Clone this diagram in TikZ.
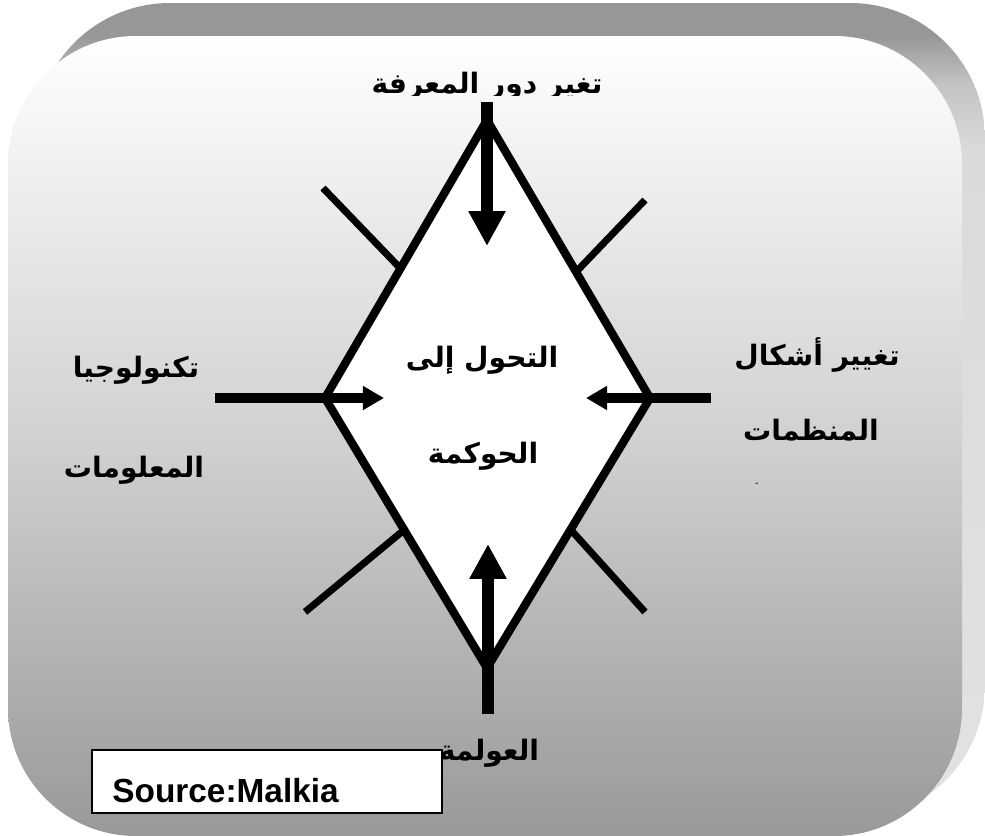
\documentclass[tikz,border=0pt]{standalone}
\usepackage{fontspec}
\setmainfont{Liberation Sans}
\newfontfamily\arabicfont[Script=Arabic]{DejaVu Sans}
\TeXXeTstate=1
\usetikzlibrary{arrows.meta}
\newcommand{\artext}[1]{{\arabicfont\bfseries\beginR #1\endR}}
\definecolor{backtop}{HTML}{979797}
\definecolor{backmid}{HTML}{C4C4C4}
\definecolor{backlow}{HTML}{DADADA}
\definecolor{backend}{HTML}{E2E2E2}
\pgfdeclareverticalshading{backshade}{100bp}{color(0bp)=(backend); color(25bp)=(backend);
  color(66bp)=(backlow); color(70bp)=(backmid); color(73bp)=(backtop); color(100bp)=(backtop)}

\begin{document}
\begin{tikzpicture}[x=0.02cm, y=-0.02cm,
    lbl/.style={font=\fontsize{16}{19}\selectfont, inner sep=0pt, anchor=base},
    spoke/.style={line width=4pt},
    bigarrow/.style={line width=7.2pt, -{Triangle[length=19.8pt,width=19.8pt]}},
    sidearrow/.style={line width=5.4pt, -{Triangle[length=12pt,width=13pt]}}]
  \useasboundingbox (0,0) rectangle (985,836);
  % back and front panels
  \shade[shading=backshade, rounded corners=2.7cm] (35,3) rectangle (985,820);
  \shade[top color=white, bottom color=black!40, middle color=black!18, rounded corners=2.56cm] (8,36) rectangle (962,836);
  % diamond
  \coordinate (tv) at (487,120);
  \coordinate (rv) at (650,398);
  \coordinate (bv) at (487,668);
  \coordinate (lv) at (325,398);
  \draw[line width=4.7pt, fill=white] (tv) -- (rv) -- (bv) -- (lv) -- cycle;
  % spokes
  \coordinate (ulo) at (323,188);
  \coordinate (uli) at (400,268);
  \coordinate (uro) at (645,200);
  \coordinate (uri) at (576,272);
  \coordinate (llo) at (305,612);
  \coordinate (lli) at (404,530);
  \coordinate (lro) at (645,612);
  \coordinate (lri) at (571,530);
  \draw[spoke] (ulo) -- (uli);
  \draw[spoke] (uro) -- (uri);
  \draw[spoke] (llo) -- (lli);
  \draw[spoke] (lro) -- (lri);
  % arrows
  \coordinate (tstart) at (487,102);
  \coordinate (ttip) at (487,246);
  \coordinate (bstart) at (488,714);
  \coordinate (btip) at (488,544);
  \coordinate (lstart) at (215,398);
  \coordinate (ltip) at (384,398);
  \coordinate (rstart) at (711,398);
  \coordinate (rtip) at (586,398);
  \draw[bigarrow] (tstart) -- (ttip);
  \draw[bigarrow] (bstart) -- (btip);
  \draw[sidearrow] (lstart) -- (ltip);
  \draw[sidearrow] (rstart) -- (rtip);
  % labels
  \begin{scope}
    \clip (300,50) rectangle (700,95);
    \node[lbl] (knowledge) at (487,93) {\artext{تغير دور المعرفة}};
  \end{scope}
  \node[lbl] (tech1) at (136,377) {\artext{تكنولوجيا}};
  \node[lbl] (tech2) at (134,477) {\artext{المعلومات}};
  \node[lbl] (forms1) at (817,365) {\artext{تغيير أشكال}};
  \node[lbl] (forms2) at (811,440) {\artext{المنظمات}};
  \node[lbl, font=\fontsize{6}{7}\selectfont] (dot) at (757,486) {-};
  \node[lbl] (gov1) at (482,367) {\artext{التحول إلى}};
  \node[lbl] (gov2) at (483,463) {\artext{الحوكمة}};
  \node[lbl] (glob) at (489,760) {\artext{العولمة}};
  % source box
  \draw[fill=white, line width=1pt] (92,750) rectangle (442,813);
  \node[lbl, anchor=base west, font=\bfseries\fontsize{19}{21}\selectfont] (source) at (112,802) {Source:Malkia};
\end{tikzpicture}
\end{document}
